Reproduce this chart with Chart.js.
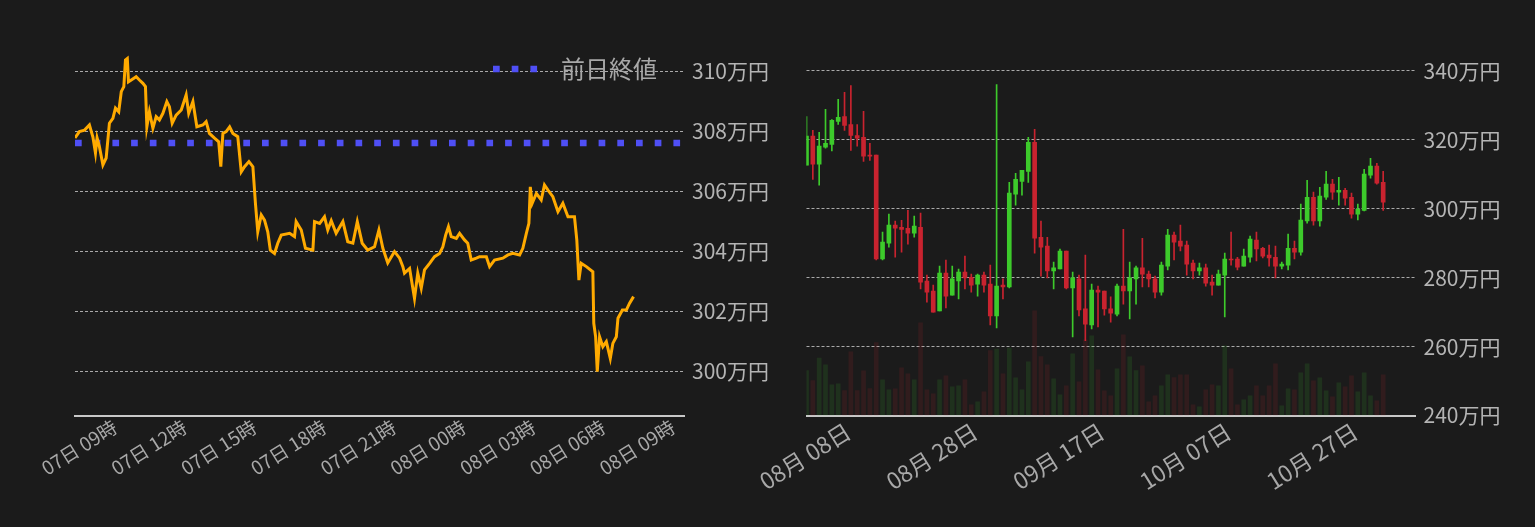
<!DOCTYPE html>
<html><head><meta charset="utf-8">
<script src="https://cdn.jsdelivr.net/npm/chart.js@4.4.1/dist/chart.umd.min.js"></script>
<style>
html,body{margin:0;padding:0;background:#1b1b1b;width:1535px;height:527px;overflow:hidden}
.box{position:absolute;top:0;height:527px}
#b1{left:0;width:780px}
#b2{left:730px;width:805px}
</style></head><body>
<div class="box" id="b1"><canvas id="c1"></canvas></div>
<div class="box" id="b2"><canvas id="c2"></canvas></div>
<script>
// ---------- Left: intraday (hours counted from 07日 00時) ----------
const intradayHours = [9.00,9.19,9.41,9.62,9.77,9.88,9.95,10.05,10.20,10.34,10.48,10.63,10.74,10.88,10.99,11.10,11.17,11.25,11.30,11.42,11.63,11.77,11.92,12.03,12.09,12.20,12.35,12.49,12.63,12.78,12.95,13.06,13.18,13.35,13.57,13.78,13.89,14.07,14.24,14.50,14.64,14.78,15.00,15.18,15.27,15.36,15.50,15.65,15.79,16.00,16.15,16.29,16.48,16.65,16.76,16.86,17.01,17.15,17.29,17.40,17.58,17.72,17.87,18.23,18.44,18.51,18.73,18.91,19.23,19.30,19.52,19.73,19.87,20.02,20.23,20.52,20.73,20.95,21.14,21.35,21.59,21.88,22.07,22.24,22.45,22.74,22.96,23.10,23.17,23.39,23.60,23.74,23.89,24.03,24.25,24.46,24.68,24.82,24.94,25.06,25.18,25.40,25.54,25.75,25.89,26.04,26.26,26.40,26.69,26.83,27.04,27.40,27.62,27.83,28.12,28.26,28.41,28.52,28.58,28.66,28.84,29.05,29.19,29.34,29.55,29.77,29.98,30.20,30.48,30.58,30.67,30.77,30.99,31.27,31.31,31.39,31.46,31.56,31.70,31.85,32.02,32.13,32.28,32.35,32.54,32.71,32.85,33.02];
const intradayPrices = [307.77,307.98,308.03,308.20,307.80,307.27,307.77,307.48,306.87,307.10,308.26,308.42,308.76,308.64,309.31,309.48,310.37,310.42,309.64,309.70,309.81,309.70,309.59,309.48,308.14,308.64,308.09,308.48,308.37,308.59,308.98,308.81,308.26,308.53,308.70,309.20,308.59,308.98,308.14,308.20,308.31,307.92,307.76,307.64,306.81,307.92,307.98,308.14,307.92,307.81,306.64,306.81,306.98,306.81,305.59,304.64,305.20,305.03,304.64,304.03,303.92,304.26,304.53,304.59,304.48,304.98,304.70,304.09,304.03,304.98,304.92,305.14,304.70,305.01,304.59,304.98,304.31,304.26,304.98,304.26,304.03,304.14,304.70,304.09,303.60,303.98,303.76,303.48,303.26,303.42,302.42,303.26,302.76,303.37,303.59,303.81,303.92,304.14,304.53,304.81,304.48,304.42,304.59,304.37,304.26,303.70,303.76,303.81,303.81,303.48,303.70,303.76,303.87,303.92,303.87,304.09,304.59,304.92,306.14,305.59,305.92,305.70,306.20,306.03,305.81,305.31,305.59,305.14,305.14,304.37,303.03,303.59,303.48,303.31,301.59,301.14,299.98,301.14,300.81,300.98,300.42,300.92,301.14,301.76,302.03,302.03,302.26,302.48];
const prevCloseLabel = '前日終値';
const prevClose = 307.6;
const intradayTickHours = [9,12,15,18,21,24,27,30,33];
const intradayTickLabels = ['07日 09時','07日 12時','07日 15時','07日 18時','07日 21時','08日 00時','08日 03時','08日 06時','08日 09時'];
const intradayYTicks = [300,302,304,306,308,310];
const intradayXRange = [9, 35.19];
const intradayYRange = [298.517, 310.7];

// ---------- Right: daily candles (day index from 08月 08日) ----------
const opens  = [312.6,321.0,312.9,317.8,318.6,325.3,326.7,324.4,321.2,320.7,315.5,315.5,285.4,290.0,295.2,294.6,294.3,292.9,294.6,279.0,276.1,270.3,281.3,274.9,279.0,281.6,280.1,278.1,280.7,278.1,268.9,277.8,277.3,304.2,307.9,310.8,319.2,291.7,289.1,281.9,282.5,287.7,277.0,279.6,270.9,266.3,276.4,276.1,270.9,269.4,277.5,276.1,279.6,282.8,281.0,279.6,275.8,283.3,292.3,290.6,289.4,284.2,281.9,282.8,278.7,277.8,280.7,285.4,285.4,283.3,285.9,290.9,288.5,286.5,285.9,283.3,283.6,288.5,287.4,296.4,303.3,296.4,303.3,307.1,304.8,305.3,303.3,298.4,299.5,309.7,312.3,307.6];
const highs  = [326.7,322.7,322.1,328.8,325.8,331.7,333.7,335.7,324.4,328.2,318.9,315.5,293.2,298.4,296.4,296.6,299.5,297.8,298.7,280.7,277.8,283.3,285.1,283.3,282.5,286.2,281.0,281.0,281.6,283.6,336.0,279.6,307.6,310.2,311.1,320.7,323.0,296.4,291.7,284.5,288.3,287.7,281.6,280.7,286.5,278.1,277.5,276.1,274.4,278.1,294.0,284.5,283.3,291.4,281.9,280.4,284.5,294.0,293.2,295.2,290.6,285.1,284.2,283.9,280.7,282.2,287.1,293.2,285.9,288.3,292.0,293.2,288.8,289.4,289.1,284.5,292.6,290.6,301.3,308.2,304.8,306.2,310.8,308.5,309.1,305.9,304.5,301.3,311.4,314.6,313.1,310.8];
const lows   = [312.6,308.5,306.8,317.5,316.7,324.4,322.7,316.9,318.1,313.7,314.0,285.1,285.1,288.8,285.9,287.4,289.7,291.7,276.7,272.9,270.0,270.3,271.2,274.9,273.8,276.7,275.8,274.6,275.8,266.3,265.4,273.8,277.0,301.0,303.9,307.6,287.1,280.4,279.9,276.7,282.5,276.7,262.8,268.9,261.7,265.1,265.7,269.1,267.1,268.9,272.3,268.0,272.3,277.3,277.3,274.1,274.9,282.2,285.1,287.7,280.7,279.6,280.7,277.5,274.9,277.8,268.6,283.6,282.2,283.3,284.5,284.8,285.7,283.3,279.9,282.5,282.2,285.4,286.5,295.8,295.2,294.9,302.7,302.7,301.0,301.0,297.2,296.7,299.3,308.8,307.1,299.5];
const closes = [321.0,312.9,318.1,318.9,325.6,326.5,324.1,321.2,320.4,315.2,315.2,285.4,290.3,295.2,294.3,294.0,292.9,294.9,278.7,275.8,270.0,281.3,274.6,279.6,281.6,279.9,277.8,280.7,277.8,268.9,277.5,277.3,304.5,308.5,311.1,319.2,291.4,288.8,281.9,282.8,287.7,277.0,279.9,270.6,266.5,276.4,275.8,270.9,269.7,277.5,276.1,279.9,282.8,281.0,279.6,275.8,283.6,292.3,290.3,289.1,283.9,281.9,282.8,278.4,277.8,281.0,285.4,285.1,283.0,286.2,291.2,288.3,286.2,285.7,283.3,283.9,288.5,287.4,296.7,303.3,296.4,303.6,307.1,304.8,305.3,303.0,298.4,299.8,310.0,312.3,307.4,301.9];
const volumes = [135,105,172,152,92,95,75,191,75,134,81,219,107,77,80,143,125,107,278,77,65,107,119,86,89,107,32,41,71,195,199,125,202,113,77,161,314,177,152,110,62,89,185,101,227,239,137,74,59,140,242,176,135,149,41,59,89,122,114,122,122,32,26,77,92,89,209,140,32,47,59,89,59,89,155,29,80,77,128,155,104,113,74,56,98,86,119,71,128,59,44,122];
const dailyTickDays = [0,20,40,60,80];
const dailyTickLabels = ['08月 08日','08月 28日','09月 17日','10月 07日','10月 27日'];
const dailyYTicks = [240,260,280,300,320,340];
const dailyXRange = [0, 96.1];
const dailyYRange = [240, 346];
const volumeMax = 1096.5;

// ---------- styles ----------
Chart.defaults.font.family = "'Noto Sans CJK JP','Noto Sans',sans-serif";
const GRID = 'rgba(205,205,205,0.8)';
const TXT = '#a8a8a8';
const YTXT = '#b4b4b4';
const AXIS = '#c8c8c8';
const UP = '#3dca2b', DOWN = '#c9232f';
const UPV = 'rgba(61,202,43,0.13)', DOWNV = 'rgba(201,35,47,0.13)';
const PREV = '#4f4ff5';
const PREV_DASH = [6.7, 12];

const legendPlace = {
  id: 'legendPlace',
  afterLayout(chart) {
    const lg = chart.legend;
    if (!lg || !chart.options.plugins.legend.display) return;
    const w = lg.width, h = lg.height;
    lg.left = 483; lg.right = 483 + w; lg.top = 47; lg.bottom = 47 + h;
  }
};

new Chart(document.getElementById('c1'), {
  type: 'line',
  data: { datasets: [
    { label: '価格', data: intradayHours.map((h, i) => ({x: h, y: intradayPrices[i]})),
      borderColor: '#ffaa00', backgroundColor: '#ffaa00', borderWidth: 3, pointRadius: 0, tension: 0, order: 0 },
    { label: prevCloseLabel, data: [{x: intradayXRange[0], y: prevClose}, {x: intradayXRange[1], y: prevClose}],
      borderColor: PREV, backgroundColor: PREV, borderWidth: 6.7, borderDash: PREV_DASH,
      borderCapStyle: 'butt', pointRadius: 0, order: 1 }
  ]},
  options: {
    responsive: true, maintainAspectRatio: false, animation: false, events: [],
    layout: { padding: { left: 75, top: 50, right: 0, bottom: 0 } },
    plugins: {
      legend: { position: 'chartArea', align: 'start',
        labels: {
          usePointStyle: true, pointStyle: 'line', pointStyleWidth: 56,
          color: TXT, font: { size: 24 }, padding: 10,
          generateLabels: chart => Chart.defaults.plugins.legend.labels.generateLabels(chart)
            .filter(it => it.datasetIndex === 1)
            .map(it => Object.assign(it, { lineDash: PREV_DASH, lineWidth: 6.7, strokeStyle: PREV,
              fillStyle: PREV, pointStyle: 'line', lineCap: 'butt', fontColor: TXT }))
        } },
      tooltip: { enabled: false }
    },
    scales: {
      x: { type: 'linear', min: intradayXRange[0], max: intradayXRange[1],
        afterBuildTicks: s => { s.ticks = intradayTickHours.map(v => ({value: v})); },
        afterFit: s => { s.height = 111.5; s.paddingLeft = 0; s.paddingRight = 0; },
        grid: { display: false }, border: { display: true, color: AXIS, width: 2 },
        ticks: { autoSkip: false, maxRotation: 32, minRotation: 32, labelOffset: 40, padding: -8,
          color: TXT, font: { size: 19 }, callback: (v, i) => intradayTickLabels[i] } },
      y: { position: 'right', min: intradayYRange[0], max: intradayYRange[1],
        afterBuildTicks: s => { s.ticks = intradayYTicks.map(v => ({value: v})); },
        afterFit: s => { s.width = 96; s.paddingTop = 0; s.paddingBottom = 0; },
        grid: { color: GRID, lineWidth: 1, drawTicks: false },
        border: { display: false, dash: [3, 2] },
        ticks: { padding: 8, color: YTXT, font: { size: 21 }, callback: v => v + '万円' } }
    }
  },
  plugins: [legendPlace]
});

const isUp = opens.map((o, i) => closes[i] >= o);
new Chart(document.getElementById('c2'), {
  type: 'bar',
  data: { datasets: [
    { label: '実体', data: opens.map((o, i) => ({x: i, y: [o, closes[i]]})),
      backgroundColor: isUp.map(u => u ? UP : DOWN), barThickness: 4, minBarLength: 1, grouped: false, order: 0 },
    { label: 'ヒゲ', data: lows.map((l, i) => ({x: i, y: [l, highs[i]]})),
      backgroundColor: isUp.map(u => u ? UP : DOWN), barThickness: 1, grouped: false, order: 1 },
    { label: '出来高', data: volumes.map((v, i) => ({x: i, y: v})), yAxisID: 'vol',
      backgroundColor: isUp.map(u => u ? UPV : DOWNV), barThickness: 4, grouped: false, order: 2 }
  ]},
  options: {
    responsive: true, maintainAspectRatio: false, animation: false, events: [],
    layout: { padding: { left: 76.5, top: 50, right: 0, bottom: 0 } },
    plugins: { legend: { display: false }, tooltip: { enabled: false } },
    scales: {
      x: { type: 'linear', min: dailyXRange[0], max: dailyXRange[1], offset: false,
        afterBuildTicks: s => { s.ticks = dailyTickDays.map(v => ({value: v})); },
        afterFit: s => { s.height = 111.5; s.paddingLeft = 0; s.paddingRight = 0; },
        grid: { display: false }, border: { display: true, color: AXIS, width: 2 },
        ticks: { autoSkip: false, maxRotation: 32, minRotation: 32, labelOffset: 42, padding: -6,
          color: TXT, font: { size: 23 }, callback: (v, i) => dailyTickLabels[i] } },
      y: { position: 'right', min: dailyYRange[0], max: dailyYRange[1],
        afterBuildTicks: s => { s.ticks = dailyYTicks.map(v => ({value: v})); },
        afterFit: s => { s.width = 119.5; s.paddingTop = 0; s.paddingBottom = 0; },
        grid: { color: GRID, lineWidth: 1, drawTicks: false },
        border: { display: false, dash: [3, 2] },
        ticks: { padding: 8, color: YTXT, font: { size: 21 }, callback: v => v + '万円' } },
      vol: { display: false, min: 0, max: volumeMax, position: 'left' }
    }
  }
});
</script>
</body></html>
